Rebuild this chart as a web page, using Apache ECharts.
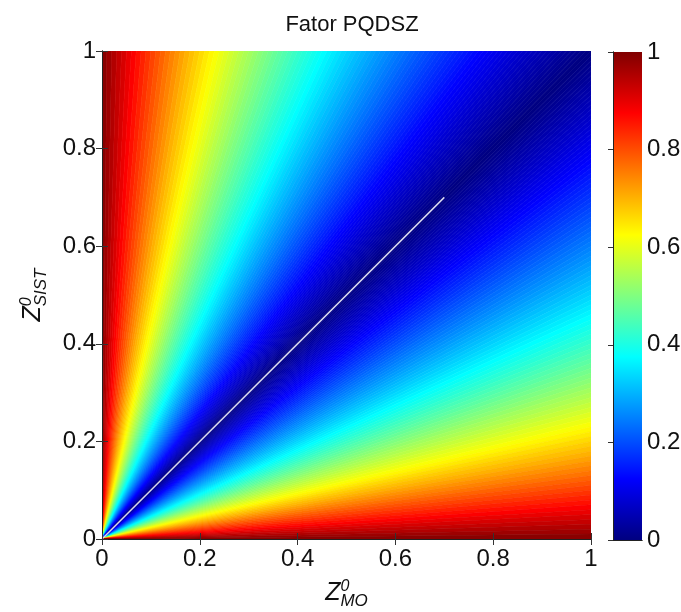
<!DOCTYPE html>
<html>
<head>
<meta charset="utf-8">
<script src="https://cdn.jsdelivr.net/npm/echarts/dist/echarts.min.js"></script>
<style>
  html, body { margin: 0; padding: 0; background: #fff; }
  #chart { width: 681px; height: 612px; }
</style>
</head>
<body>
<div id="chart"></div>
<script>
// Field value along rays from the origin, sampled in 100 equal steps along
// the top edge (Z_SIST = 1, Z_MO from 0 to 1) ...
const topEdgeValues = [
  0.990, 0.970, 0.951, 0.932, 0.914, 0.896, 0.878, 0.860, 0.843, 0.826,
  0.810, 0.794, 0.778, 0.762, 0.747, 0.732, 0.717, 0.702, 0.688, 0.674,
  0.660, 0.646, 0.633, 0.619, 0.606, 0.594, 0.581, 0.569, 0.556, 0.544,
  0.533, 0.521, 0.509, 0.498, 0.487, 0.476, 0.465, 0.455, 0.444, 0.434,
  0.423, 0.413, 0.404, 0.394, 0.384, 0.375, 0.365, 0.356, 0.347, 0.338,
  0.329, 0.320, 0.311, 0.303, 0.294, 0.286, 0.278, 0.270, 0.262, 0.254,
  0.246, 0.238, 0.231, 0.223, 0.216, 0.208, 0.201, 0.194, 0.187, 0.180,
  0.173, 0.166, 0.159, 0.153, 0.146, 0.140, 0.133, 0.127, 0.120, 0.114,
  0.108, 0.102, 0.096, 0.090, 0.084, 0.078, 0.072, 0.067, 0.061, 0.055,
  0.050, 0.044, 0.039, 0.034, 0.028, 0.023, 0.018, 0.013, 0.008, 0.003
];
// ... and along the right edge (Z_MO = 1, Z_SIST from 1 down to 0)
const rightEdgeValues = [
  0.003, 0.008, 0.013, 0.018, 0.023, 0.028, 0.034, 0.039, 0.044, 0.050,
  0.055, 0.061, 0.067, 0.072, 0.078, 0.084, 0.090, 0.096, 0.102, 0.108,
  0.114, 0.120, 0.127, 0.133, 0.140, 0.146, 0.153, 0.159, 0.166, 0.173,
  0.180, 0.187, 0.194, 0.201, 0.208, 0.216, 0.223, 0.231, 0.238, 0.246,
  0.254, 0.262, 0.270, 0.278, 0.286, 0.294, 0.303, 0.311, 0.320, 0.329,
  0.338, 0.347, 0.356, 0.365, 0.375, 0.384, 0.394, 0.404, 0.413, 0.423,
  0.434, 0.444, 0.455, 0.465, 0.476, 0.487, 0.498, 0.509, 0.521, 0.533,
  0.544, 0.556, 0.569, 0.581, 0.594, 0.606, 0.619, 0.633, 0.646, 0.660,
  0.674, 0.688, 0.702, 0.717, 0.732, 0.747, 0.762, 0.778, 0.794, 0.810,
  0.826, 0.843, 0.860, 0.878, 0.896, 0.914, 0.932, 0.951, 0.970, 0.990
];
// Reference diagonal Z_MO = Z_SIST
const diagonalLine = [[0, 0], [0.7, 0.7]];
// Axis ticks
const axisTicks = [0, 0.2, 0.4, 0.6, 0.8, 1];
const colorbarTicks = [0, 0.2, 0.4, 0.6, 0.8, 1];

// MATLAB "jet" colour map
const jet = ['#000080', '#0000ff', '#0080ff', '#00ffff', '#80ff80',
             '#ffff00', '#ff8000', '#ff0000', '#800000'];

// One wedge per sample: [edge (0 = top, 1 = right), index, value]
const wedges = [];
topEdgeValues.forEach((v, i) => wedges.push([0, i, v]));
rightEdgeValues.forEach((v, i) => wedges.push([1, i, v]));

const FONT = '"Liberation Sans", Arial, sans-serif';
const tickStep = axisTicks[1] - axisTicks[0];
const cbStep = colorbarTicks[1] - colorbarTicks[0];

function wedgeItem(params, api) {
  const edge = api.value(0);
  const k = api.value(1);
  const n = edge === 0 ? topEdgeValues.length : rightEdgeValues.length;
  let a, b;
  if (edge === 0) {
    a = api.coord([k / n, 1]);
    b = api.coord([(k + 1) / n, 1]);
  } else {
    a = api.coord([1, 1 - k / n]);
    b = api.coord([1, 1 - (k + 1) / n]);
  }
  const o = api.coord([0, 0]);
  const c = api.visual('color');
  return {
    type: 'polygon',
    shape: { points: [o, a, b] },
    style: { fill: c, stroke: c, lineWidth: 0.6 }
  };
}

function colorbarItem(params, api) {
  const p0 = api.coord([0, colorbarTicks[0]]);
  const p1 = api.coord([1, colorbarTicks[colorbarTicks.length - 1]]);
  // top of the bar is the high end of the map
  const stops = jet.map((col, i) => ({ offset: 1 - i / (jet.length - 1), color: col })).reverse();
  return {
    type: 'rect',
    shape: { x: p0[0], y: p1[1], width: p1[0] - p0[0], height: p0[1] - p1[1] },
    style: { fill: new echarts.graphic.LinearGradient(0, 0, 0, 1, stops) }
  };
}

const axisLineStyle = { lineStyle: { color: '#222', width: 1 } };
const tickStyle = { inside: true, length: 6, lineStyle: { color: '#333' } };
const labelStyle = { color: '#111', fontSize: 24, fontFamily: FONT };
const nameRich = {
  z: { fontSize: 25, fontFamily: FONT, color: '#111', fontStyle: 'italic' },
  sup: { fontSize: 16, fontFamily: FONT, color: '#111', fontStyle: 'italic', padding: [0, 0, 14, 0] },
  sub: { fontSize: 17, fontFamily: FONT, color: '#111', fontStyle: 'italic', padding: [16, 0, 0, -9] }
};

const option = {
  animation: false,
  backgroundColor: '#fff',
  title: {
    text: 'Fator PQDSZ',
    left: 347, top: 9, textAlign: 'center',
    textStyle: { fontFamily: FONT, fontSize: 22, fontWeight: 'normal', color: '#111' }
  },
  visualMap: {
    show: false, type: 'continuous', min: 0, max: 1,
    dimension: 2, seriesIndex: 0,
    inRange: { color: jet }
  },
  grid: [
    { left: 102, top: 51, width: 489, height: 488, containLabel: false, outerBoundsMode: 'none' },
    { left: 613, top: 52, width: 29, height: 488, containLabel: false, outerBoundsMode: 'none' }
  ],
  xAxis: [
    {
      gridIndex: 0, type: 'value', min: axisTicks[0], max: axisTicks[axisTicks.length - 1],
      interval: tickStep, position: 'bottom', z: 10,
      axisLine: axisLineStyle, axisTick: tickStyle, splitLine: { show: false },
      axisLabel: Object.assign({ margin: 8, formatter: v => String(+v.toFixed(1)) }, labelStyle),
      name: '{z|Z}{sup|0}{sub|MO}', nameLocation: 'middle', nameGap: 38,
      nameTextStyle: { rich: nameRich }
    },
    {
      gridIndex: 0, type: 'value', min: 0, max: 1, interval: tickStep, position: 'top', z: 10,
      axisLine: axisLineStyle, axisTick: tickStyle, axisLabel: { show: false }, splitLine: { show: false }
    },
    {
      gridIndex: 1, type: 'value', min: 0, max: 1, z: 10,
      axisLine: axisLineStyle, axisTick: { show: false }, axisLabel: { show: false }, splitLine: { show: false }
    },
    {
      gridIndex: 1, type: 'value', min: 0, max: 1, position: 'top', z: 10,
      axisLine: axisLineStyle, axisTick: { show: false }, axisLabel: { show: false }, splitLine: { show: false }
    }
  ],
  yAxis: [
    {
      gridIndex: 0, type: 'value', min: axisTicks[0], max: axisTicks[axisTicks.length - 1],
      interval: tickStep, position: 'left', z: 10,
      axisLine: axisLineStyle, axisTick: tickStyle, splitLine: { show: false },
      axisLabel: Object.assign({ margin: 6, formatter: v => String(+v.toFixed(1)) }, labelStyle),
      name: '{z|Z}{sup|0}{sub|SIST}', nameLocation: 'middle', nameGap: 52, nameRotate: 90,
      nameTextStyle: { rich: nameRich }
    },
    {
      gridIndex: 0, type: 'value', min: 0, max: 1, interval: tickStep, position: 'right', z: 10,
      axisLine: axisLineStyle, axisTick: tickStyle, axisLabel: { show: false }, splitLine: { show: false }
    },
    {
      gridIndex: 1, type: 'value', min: colorbarTicks[0], max: colorbarTicks[colorbarTicks.length - 1],
      interval: cbStep, position: 'right', z: 10,
      axisLine: axisLineStyle, axisTick: { inside: true, length: 5, lineStyle: { color: '#333' } },
      splitLine: { show: false },
      axisLabel: Object.assign({ margin: 5, formatter: v => String(+v.toFixed(1)) }, labelStyle)
    },
    {
      gridIndex: 1, type: 'value', min: 0, max: 1, position: 'left', z: 10,
      axisLine: axisLineStyle, axisTick: { show: false }, axisLabel: { show: false }, splitLine: { show: false }
    }
  ],
  series: [
    {
      type: 'custom', xAxisIndex: 0, yAxisIndex: 0, clip: true,
      renderItem: wedgeItem, data: wedges, silent: true
    },
    {
      type: 'line', xAxisIndex: 0, yAxisIndex: 0, data: diagonalLine,
      symbol: 'none', z: 5, silent: true,
      lineStyle: { color: '#d8d8ee', width: 1.5 }
    },
    {
      type: 'custom', xAxisIndex: 2, yAxisIndex: 2, clip: true,
      renderItem: colorbarItem, data: [[0, 0]], silent: true
    }
  ]
};

const chart = echarts.init(document.getElementById('chart'), null, { renderer: 'canvas' });
chart.setOption(option);
</script>
</body>
</html>
